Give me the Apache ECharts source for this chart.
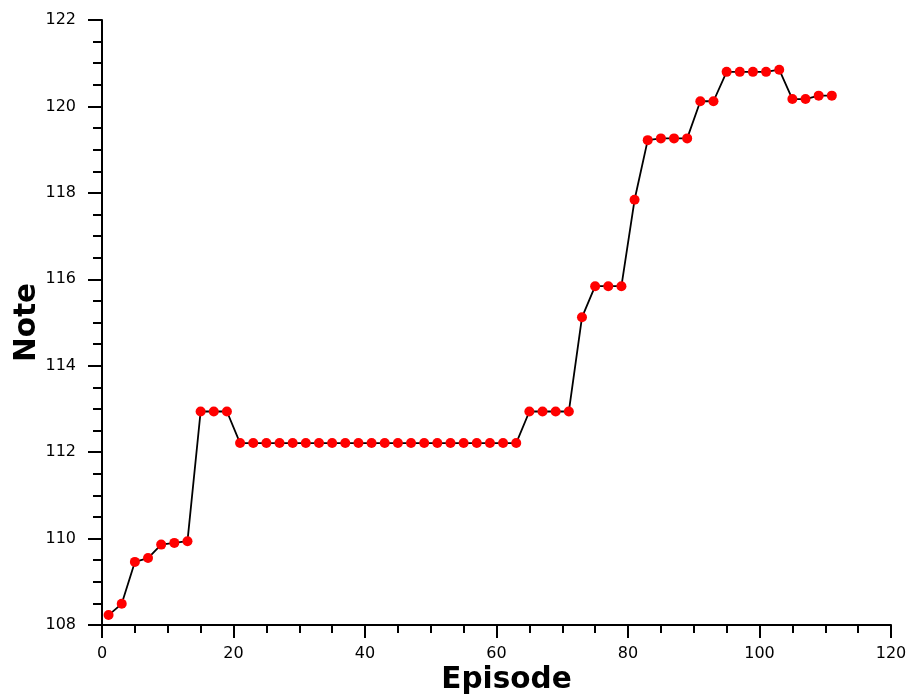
<!DOCTYPE html>
<html>
<head>
<meta charset="utf-8">
<script src="https://cdn.jsdelivr.net/npm/echarts@6/dist/echarts.min.js"></script>
<style>
  html, body { margin: 0; padding: 0; background: #fff; }
  #chart { width: 912px; height: 695px; }
</style>
</head>
<body>
<div id="chart"></div>
<script>
// episode numbers (odd, 1..111)
const episodes = [];
for (let e = 1; e <= 111; e += 2) episodes.push(e);

// note values
const notesStart = [108.23, 108.49, 109.46, 109.55, 109.86, 109.90, 109.94];   // 1..13
const notesHigh1 = [112.94, 112.94, 112.94];                                  // 15..19
const notesFlat = [112.21, 112.21, 112.21, 112.21, 112.21, 112.21, 112.21, 112.21,
                   112.21, 112.21, 112.21, 112.21, 112.21, 112.21, 112.21, 112.21,
                   112.21, 112.21, 112.21, 112.21, 112.21, 112.21];           // 21..63
const notesHigh2 = [112.94, 112.94, 112.94, 112.94];                          // 65..71
const notesRise = [115.12, 115.84, 115.84, 115.84, 117.84, 119.22, 119.26, 119.26, 119.26,
                   120.12, 120.12, 120.80, 120.80, 120.80, 120.80, 120.85,
                   120.17, 120.17, 120.25, 120.25];                           // 73..111
const notes = [].concat(notesStart, notesHigh1, notesFlat, notesHigh2, notesRise);

const xTicks = [0, 20, 40, 60, 80, 100, 120];
const yTicks = [108, 110, 112, 114, 116, 118, 120, 122];

const chart = echarts.init(document.getElementById('chart'), null, {renderer: 'canvas'});

const axisFont = {color: '#000', fontSize: 16, fontFamily: 'DejaVu Sans'};
const nameFont = {color: '#000', fontSize: 29.5, fontWeight: 'bold', fontFamily: 'DejaVu Sans'};
const black = {color: '#000', width: 2};

chart.setOption({
    animation: false,
    grid: {left: 102, right: 21, top: 20, bottom: 70, containLabel: false, outerBoundsMode: 'none'},
    xAxis: {
        type: 'value',
        min: xTicks[0],
        max: xTicks[xTicks.length - 1],
        interval: 20,
        name: 'Episode',
        nameLocation: 'middle',
        nameGap: 40,
        nameMoveOverlap: false,
        nameTextStyle: Object.assign({padding: [0, 0, 0, 20]}, nameFont),
        axisLine: {show: true, onZero: false, lineStyle: black},
        axisTick: {show: true, length: 13, lineStyle: black},
        minorTick: {show: true, splitNumber: 4, length: 8, lineStyle: black},
        axisLabel: Object.assign({margin: 21}, axisFont),
        splitLine: {show: false}
    },
    yAxis: {
        type: 'value',
        min: yTicks[0],
        max: yTicks[yTicks.length - 1],
        interval: 2,
        name: 'Note',
        nameLocation: 'middle',
        nameGap: 60,
        nameMoveOverlap: false,
        nameTextStyle: nameFont,
        axisLine: {show: true, onZero: false, lineStyle: black},
        axisTick: {show: true, length: 14, lineStyle: black},
        minorTick: {show: true, splitNumber: 4, length: 9, lineStyle: black},
        axisLabel: Object.assign({margin: 26}, axisFont),
        splitLine: {show: false}
    },
    series: [{
        type: 'line',
        data: episodes.map((e, i) => [e, notes[i]]),
        symbol: 'circle',
        symbolSize: 10,
        itemStyle: {color: '#ff0000', borderWidth: 0},
        lineStyle: {color: '#000', width: 1.8}
    }]
});
</script>
</body>
</html>
